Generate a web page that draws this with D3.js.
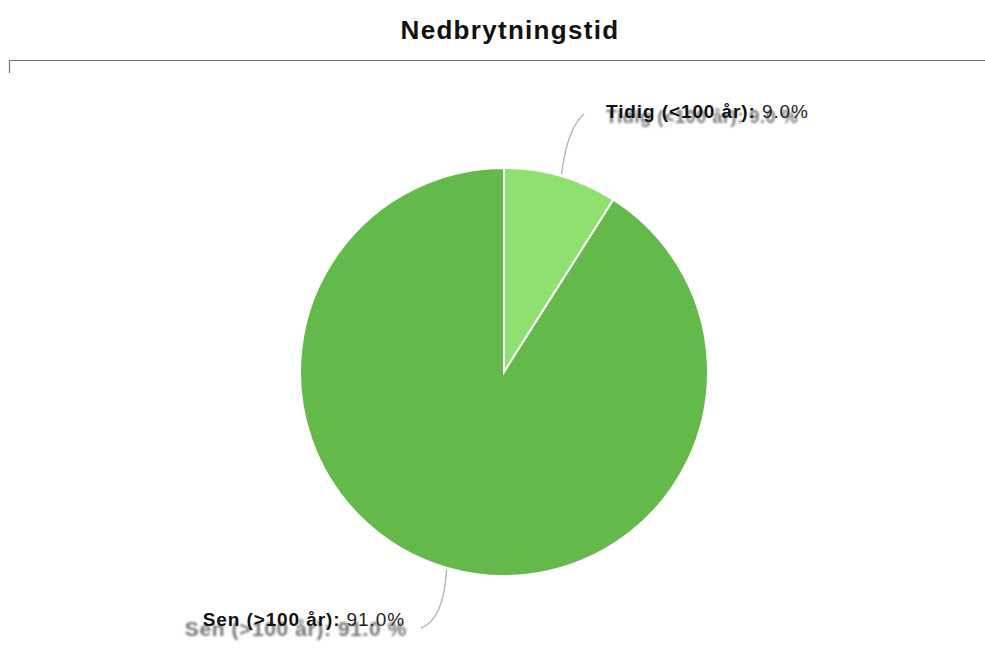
<!DOCTYPE html>
<html><head><meta charset="utf-8">
<script src="https://cdn.jsdelivr.net/npm/d3@7"></script>
<style>body{margin:0;background:#fff;} svg{display:block;font-family:"Liberation Sans",Arial,Helvetica,sans-serif;}</style>
</head><body>
<svg id="c" width="985" height="671"></svg>
<script>
const categories = ["Tidig (<100 år)", "Sen (>100 år)"];
const values = [9.0, 91.0];
const colors = ["#8ee06f", "#64b94b"];
const title = "Nedbrytningstid";

const svg = d3.select("#c");
const W = 985, H = 671;
const cx = 504, cy = 372, R = 204;

svg.append("text").attr("x", 510).attr("y", 39).attr("text-anchor", "middle")
  .style("font-size", "26px").style("font-weight", "bold").style("letter-spacing", "1.3px")
  .attr("fill", "#111").text(title);

// frame corner
svg.append("path").attr("d", `M9.5,73V60.5H${W}`).attr("fill", "none").attr("stroke", "#777").attr("stroke-width", 1.2);

const defs = svg.append("defs");
defs.append("filter").attr("id", "blur").append("feGaussianBlur").attr("stdDeviation", 1.3);

const data = categories.map((c, i) => ({ cat: c, v: values[i], col: colors[i] }));
const pie = d3.pie().value(d => d.v).sort(null);
const arcs = pie(data);
const arc = d3.arc().innerRadius(0).outerRadius(R);
const g = svg.append("g").attr("transform", `translate(${cx},${cy})`);
g.selectAll("path.s").data(arcs).join("path").attr("class", "s")
  .attr("d", arc).attr("fill", d => d.data.col).attr("stroke", "#fff").attr("stroke-width", 2);

// labels
const labelPos = [
  { tx: 606, ty: 118, sdx: 0, sdy: 5, sfs: 18, anchor: "start", lx: 584, ly: 114, dir: 1 },
  { tx: 405, ty: 626, sdx: 2, sdy: 10, sfs: 21, anchor: "end", lx: 421, ly: 628, dir: -1 }
];
arcs.forEach((a, i) => {
  const mid = (a.startAngle + a.endAngle) / 2;
  const sx = cx + Math.sin(mid) * (R + 2), sy = cy - Math.cos(mid) * (R + 2);
  const p = labelPos[i];
  const qx = sx + (p.lx - sx) * 0.35;
  svg.append("path")
    .attr("d", `M${sx},${sy}Q${qx + (p.dir>0? -2:6)},${p.ly + (p.dir>0?14:-8)} ${p.lx},${p.ly}`)
    .attr("fill", "none").attr("stroke", "#a3b59a").attr("stroke-width", 1.5).attr("opacity", 0.85);
  // blurred shadow
  svg.append("text").attr("x", p.tx + p.sdx).attr("y", p.ty + p.sdy).attr("text-anchor", p.anchor)
    .style("font-size", p.sfs + "px").style("font-weight", "bold").style("letter-spacing", "0.6px")
    .attr("fill", "#3a3a3a").attr("opacity", 0.7).attr("filter", "url(#blur)")
    .text(a.data.cat + ": " + a.data.v.toFixed(1) + " %");
  const t = svg.append("text").attr("x", p.tx).attr("y", p.ty).attr("text-anchor", p.anchor)
    .style("font-size", "19px").style("letter-spacing", "0.9px").attr("fill", "#111");
  t.append("tspan").style("font-weight", "bold").text(a.data.cat + ":");
  t.append("tspan").style("font-weight", "normal").attr("fill", "#222").text(" " + a.data.v.toFixed(1) + "%");
});
</script>
</body></html>
